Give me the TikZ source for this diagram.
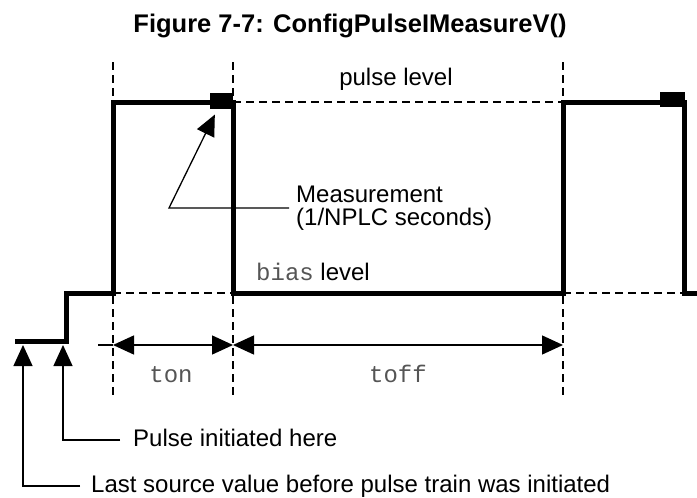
\documentclass[tikz,border=0pt]{standalone}
\usepackage{fontspec}
\setmainfont{Liberation Sans}
\setmonofont{Liberation Mono}
\usetikzlibrary{arrows.meta}
\definecolor{mMonoGrey}{HTML}{555555}

\begin{document}
\begin{tikzpicture}[
  x=1pt, y=-1pt,
  >={Triangle[length=21pt, width=19pt]},
  every node/.style={font=\fontsize{24}{23}\selectfont, inner sep=0pt},
  figtitle/.style={
    font=\fontsize{25.5}{30}\selectfont\bfseries,
    anchor=base
  },
  mono/.style={
    font=\fontsize{24}{23}\selectfont\ttfamily,
    text=mMonoGrey,
    anchor=base
  },
  notetext/.style={
    anchor=west,
    inner xsep=12pt,
    text height=17pt,
    text depth=5pt
  },
  measbox/.style={fill=black, draw=none, minimum height=16pt},
  wave/.style={draw, line width=5pt},
  guide/.style={draw, line width=1.6pt, dash pattern=on 8pt off 5pt},
  dimline/.style={draw, line width=1.4pt},
  noteline/.style={draw, line width=1.3pt}
]

\useasboundingbox (0,0) rectangle (697,498);

\node[figtitle] (title) at (350,32) {Figure 7-7: ConfigPulseIMeasureV()};

\draw[guide] (113,62) -- (113,397);
\draw[guide] (233,62) -- (233,397);
\draw[guide] (563,62) -- (563,397);
\draw[guide] (233,102) -- (563,102);
\draw[guide] (113,293) -- (233,293);
\draw[guide] (563,293) -- (684,293);

\draw[wave] (15,341) -- (66.5,341) -- (66.5,293) -- (113,293) -- (113,102)
  -- (233,102) -- (233,293) -- (563,293) -- (563,102) -- (684.5,102)
  -- (684.5,293) -- (697,293);

\node[measbox, minimum width=23pt] (mbox1) at (221.5,101) {};
\node[measbox, minimum width=25pt, minimum height=15pt] (mbox2) at (672.5,99.5) {};

\node (pulselvl) at (396,85.5) [anchor=base] {pulse level};
\node (biaslvl) at (256,280) [anchor=base west] {{\ttfamily\color{mMonoGrey}bias} level};

\node[anchor=west, align=left, inner xsep=7pt] (meas) at (289,208)
{Measurement\\(1/NPLC seconds)};
\coordinate (mvert) at (169,208);
\draw[noteline, ->, shorten >=6pt] (meas.west) -- (mvert) -- (mbox1);

\coordinate (d0) at (98,345);
\coordinate (d1) at (113,345);
\coordinate (d2) at (233,345);
\coordinate (d3) at (563,345);

\draw[dimline] (d0) -- (d1);
\draw[dimline, <->] (d1) -- (d2);
\draw[dimline, <->] (d2) -- (d3);

\node[mono] (ton) at (171,382) {ton};
\node[mono] (toff) at (398,382) {toff};

\coordinate (pulsetip) at (63,345);
\coordinate (lasttip) at (23,345);

\node[notetext, inner xsep=13pt] (pulsenote) at (120,440) {Pulse initiated here};
\node[notetext, inner xsep=11pt] (lastnote) at (80,486)
{Last source value before pulse train was initiated};

\draw[noteline, ->] (pulsenote.west) -| (pulsetip);
\draw[noteline, ->] (lastnote.west) -| (lasttip);

\end{tikzpicture}
\end{document}
